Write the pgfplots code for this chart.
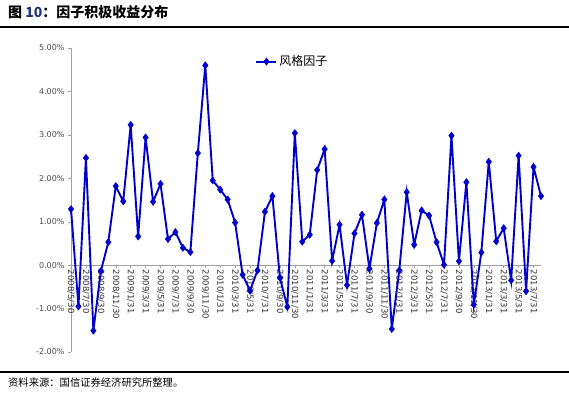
\documentclass[border=0pt]{standalone}
\usepackage{pgfplots}
\pgfplotsset{compat=1.18}
\usepackage{fontspec}
\setmainfont{DejaVu Sans}
\newfontfamily\cjk{Noto Sans CJK SC}
\definecolor{serie}{RGB}{0,0,204}
\definecolor{axgray}{RGB}{160,160,160}
\definecolor{titblue}{RGB}{31,56,120}
\begin{document}
\begin{tikzpicture}[x=1pt,y=1pt]
\path[use as bounding box] (0,0) rectangle (569,393);
\draw[line width=1.8pt] (0,366) -- (569,366);
\draw[line width=2.2pt] (0,21) -- (569,21);
\node[anchor=west,inner sep=0pt] at (8,381) {\cjk\bfseries\fontsize{14}{16}\selectfont 图 {\color{titblue}10}：因子积极收益分布};
\node[anchor=west,inner sep=0pt] at (8,10) {\cjk\fontsize{10.3}{12}\selectfont 资料来源：国信证券经济研究所整理。};
\begin{axis}[
  at={(71pt,41pt)}, anchor=south west,
  scale only axis, width=470pt, height=304pt,
  xmin=0, xmax=63, ymin=-2, ymax=5,
  axis x line=middle, axis y line=left,
  hide obscured x ticks=false, hide obscured y ticks=false,
  axis line style={axgray, -},
  every tick/.style={axgray},
  xtick={0,2,...,62},
  xticklabels={2008/5/30,2008/7/30,2008/9/30,2008/11/30,2009/1/31,2009/3/31,2009/5/31,2009/7/31,2009/9/30,2009/11/30,2010/1/31,2010/3/31,2010/5/31,2010/7/31,2010/9/30,2010/11/30,2011/1/31,2011/3/31,2011/5/31,2011/7/31,2011/9/30,2011/11/30,2012/1/31,2012/3/31,2012/5/31,2012/7/31,2012/9/30,2012/11/30,2013/1/31,2013/3/31,2013/5/31,2013/7/31},
  xticklabel style={rotate=-90, anchor=west, font=\fontsize{8.5}{10}\selectfont, text=black!80, inner sep=1.5pt},
  major tick length=3pt,
  xtick align=outside, ytick align=outside,
  ytick={-2,-1,0,1,2,3,4,5},
  yticklabel={\pgfmathprintnumber[fixed,fixed zerofill,precision=2]{\tick}\%},
  /pgf/number format/assume math mode=true,
  yticklabel style={font=\fontsize{8}{10}\selectfont, text=black!70},
  legend style={at={(0.39,0.985)}, anchor=north west, draw=none, fill=none,
    font=\cjk\fontsize{12}{14}\selectfont, inner sep=1pt},
  legend image code/.code={\draw[#1] (0pt,0pt) -- (20pt,0pt); \draw[#1, only marks] plot coordinates {(10pt,0pt)};},
  legend cell align=left,
  clip=false,
]
\addplot[serie, line width=1.9pt, mark=diamond*, mark size=3.6pt, mark options={serie, line width=0.5pt}] table {
x y
0 1.29
1 -0.95
2 2.47
3 -1.51
4 -0.14
5 0.53
6 1.82
7 1.47
8 3.23
9 0.66
10 2.94
11 1.46
12 1.87
13 0.60
14 0.76
15 0.40
16 0.30
17 2.58
18 4.60
19 1.95
20 1.74
21 1.51
22 0.98
23 -0.22
24 -0.59
25 -0.12
26 1.23
27 1.59
28 -0.29
29 -0.96
30 3.04
31 0.54
32 0.70
33 2.19
34 2.67
35 0.10
36 0.93
37 -0.46
38 0.73
39 1.16
40 -0.08
41 0.97
42 1.51
43 -1.47
44 -0.12
45 1.68
46 0.47
47 1.26
48 1.14
49 0.53
50 0.01
51 2.98
52 0.09
53 1.91
54 -0.91
55 0.29
56 2.38
57 0.55
58 0.85
59 -0.35
60 2.52
61 -0.60
62 2.26
63 1.59
};
\addlegendentry{风格因子}
\end{axis}
\end{tikzpicture}
\end{document}
